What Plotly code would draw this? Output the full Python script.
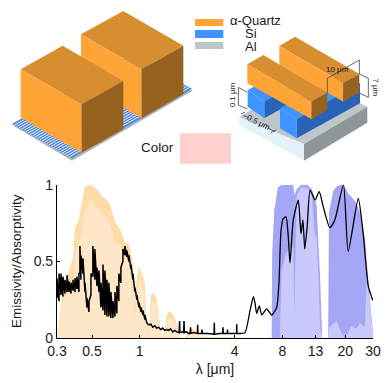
import plotly.graph_objects as go

# ---------- data ----------
SOLAR_LAM = [.300,.309,.318,.327,.337,.347,.357,.368,.379,.390,.401,.413,.425,.438,.451,.464,.478,.492,.506,.521,.537,.553,.569,.586,.603,.621,.639,.658,.678,.698,.718,.739,.761,.784,.807,.831,.855,.881,.907,.934,.961,.990,1.02,1.05,1.08,1.11,1.14,1.18,1.21,1.25,1.28,1.32,1.36,1.40,1.44,1.48,1.53,1.57,1.62,1.67,1.72,1.77,1.82,1.87,1.93,1.98,2.04,2.10,2.17,2.23,2.30,2.36,2.43,2.6,3.0,4.0]
SOLAR_UPPER = [0,.10,.20,.30,.34,.40,.44,.48,.52,.72,.74,.78,.86,.92,.99,.99,1.0,1.0,.99,.98,.97,.95,.93,.92,.91,.90,.88,.86,.80,.76,.74,.72,.70,.66,.62,.62,.61,.56,.47,.22,.40,.46,.44,.40,.36,.12,.05,.28,.29,.28,.26,.15,.03,0,.05,.15,.17,.17,.16,.13,.09,.04,.005,0,0,.02,.04,.06,.06,.05,.04,.02,.01,.005,.005,.005]
SOLAR_LOWER = [0,.07,.16,.24,.27,.28,.30,.33,.36,.55,.58,.62,.68,.76,.82,.85,.88,.90,.88,.87,.85,.84,.82,.80,.80,.78,.76,.72,.68,.60,.62,.62,.60,.56,.54,.52,.48,.38,.28,.10,.30,.38,.36,.33,.28,.07,0,.20,.24,.24,.22,.10,0,0,.02,.10,.13,.13,.12,.10,.06,.02,0,0,0,0,.02,.04,.04,.03,.02,.01,0,0,0,0]

BLUE_LAM = [6.7,6.85,6.9,7.0,7.12,7.3,7.48,7.7,7.93,8.5,9.39,9.53,9.87,10.5,11.5,12.3,12.8,13.2,13.6,13.9,14.3,15.6,15.8,16.3,16.8,17.7,19,20.0,21,22.0,23.5,24.8,25.8,26.7,27.4,28.3,29.1,29.6,30.0]
BLUE_DARK = [0,0,.55,.72,.84,.90,.98,.99,1,1,1,.93,.97,1,1,.97,.92,.86,.60,.38,0,0,.82,.90,.96,.99,1,.98,.94,.92,.88,.82,.72,.65,.50,.30,.17,.11,0]
BLUE_LIGHT = [0,0,0,0,0,0,0,0,.44,.56,.60,.16,.93,.98,.98,.94,.68,.66,.35,.06,0,0,.07,.08,.09,.11,.03,0,.04,.08,.06,.10,.08,.08,.40,.28,.14,.08,0]

BAND_LAM = [.300,.309,.318,.327,.337,.347,.357,.368,.379,.390,.401,.413,.419,.425,.438,.451,.464,.478,.492,.506,.521,.537,.553,.569,.586,.603,.621,.639,.658,.678,.698,.718,.739,.761,.784,.807,.831,.855,.881,.907,.934,.961,.990,1.02,1.05,1.08]
BAND_LOW = [.26,.24,.28,.27,.29,.30,.30,.29,.31,.30,.32,.30,.42,.38,.42,.30,.20,.17,.28,.40,.38,.34,.30,.20,.18,.15,.14,.14,.13,.13,.14,.16,.24,.36,.50,.54,.53,.50,.45,.38,.30,.25,.20,.17,.15,.12]
BAND_HIGH = [.39,.42,.42,.40,.38,.41,.37,.36,.38,.39,.40,.42,.60,.54,.52,.36,.26,.24,.42,.60,.58,.46,.44,.36,.48,.44,.38,.36,.30,.24,.30,.34,.42,.46,.58,.60,.57,.54,.48,.42,.33,.28,.23,.20,.18,.15]

TAIL_LAM = [1.11,1.14,1.18,1.21,1.25,1.28,1.32,1.36,1.40,1.44,1.48,1.53,1.57,1.62,1.67,1.72,1.78,1.79,1.80,1.87,1.90,1.91,1.92,1.98,2.04,2.09,2.10,2.11,2.2,2.32,2.33,2.34,2.47,2.48,2.49,2.7,2.96,2.97,2.98,3.2,3.36,3.37,3.38,3.59,3.6,3.61,3.9,4.11,4.12,4.13,4.4]
TAIL_VAL = [.10,.085,.09,.07,.08,.065,.07,.055,.065,.05,.055,.05,.06,.04,.05,.04,.035,.11,.035,.04,.035,.11,.035,.04,.03,.03,.07,.03,.035,.03,.087,.03,.03,.055,.03,.03,.025,.10,.025,.03,.03,.07,.03,.03,.055,.03,.03,.03,.09,.03,.03]

SMOOTH_LAM = [4.4,4.65,5.0,5.25,5.37,5.51,5.72,5.93,6.37,6.85,7.37,7.62,7.85,8.12,8.44,8.73,8.95,9.39,10.1,10.5,10.8,11.1,11.5,12.0,12.9,13.7,14.5,16.0,17.2,19.5,20.9,24.2,26.0,28.0,29.9]
SMOOTH_VAL = [.03,.035,.18,.27,.23,.16,.21,.15,.19,.15,.20,.36,.70,.78,.79,.66,.49,.77,.90,.68,.77,.58,.73,.965,.90,.955,.86,.72,.77,1.0,.565,.91,.68,.34,.245]

X_TICKS = [.3,.5,1,4,8,13,20,30]
X_LABELS = ["0.3","0.5","1","4","8","13","20","30"]
Y_TICKS = [0,.5,1]
Y_LABELS = ["0","0.5","1"]
LEGEND_LABELS = ["α-Quartz","Si","Al"]

W, H = 392, 383
FONT = "Liberation Sans"
TXT = "#1a1a1a"
OR_TOP, OR_FRONT, OR_SIDE = "#D68E30", "#FFA538", "#95621F"
BL_LIGHT, BL_DARK = "#3F94FF", "#2A62B8"

fig = go.Figure()
fig.add_trace(go.Scatter(x=SOLAR_LAM, y=SOLAR_UPPER, mode="lines", line=dict(width=0), fill="tozeroy", fillcolor="#FDDCA8"))
fig.add_trace(go.Scatter(x=SOLAR_LAM, y=SOLAR_LOWER, mode="lines", line=dict(width=0), fill="tozeroy", fillcolor="#FEE7C8"))
fig.add_trace(go.Scatter(x=BLUE_LAM, y=BLUE_DARK, mode="lines", line=dict(width=0), fill="tozeroy", fillcolor="#A6A6F6"))
fig.add_trace(go.Scatter(x=BLUE_LAM, y=BLUE_LIGHT, mode="lines", line=dict(width=0), fill="tozeroy", fillcolor="#C9C9FE"))

band_x, band_y = [], []
for l, lo, hi in zip(BAND_LAM, BAND_LOW, BAND_HIGH):
    band_x += [l, l]
    band_y += [lo, hi]
fig.add_trace(go.Scatter(x=band_x + TAIL_LAM, y=band_y + TAIL_VAL, mode="lines", line=dict(color="black", width=1.5)))
fig.add_trace(go.Scatter(x=SMOOTH_LAM, y=SMOOTH_VAL, mode="lines", line=dict(color="black", width=1.3, shape="spline", smoothing=0.6)))

# ---------- illustration helpers (zoom-pixel geometry, scale 1/3) ----------
shapes, annos = [], []
def P(x, y):
    return x / W, 1 - y / H

def poly(pts, color, ox=0):
    d = ""
    for i, (x, y) in enumerate(pts):
        px, py = P(ox + x / 3, y / 3)
        d += ("M" if i == 0 else "L") + f"{px:.5f},{py:.5f}"
    shapes.append(dict(type="path", xref="paper", yref="paper", path=d + "Z", fillcolor=color, line=dict(width=0), layer="below"))

def seg(p, q, color="#444444", w=0.8, ox=0):
    a, b = P(ox + p[0] / 3, p[1] / 3), P(ox + q[0] / 3, q[1] / 3)
    shapes.append(dict(type="line", xref="paper", yref="paper", x0=a[0], y0=a[1], x1=b[0], y1=b[1], line=dict(color=color, width=w), layer="below"))

def text(x, y, s, size, angle=0):
    annos.append(dict(xref="paper", yref="paper", x=x / W, y=1 - y / H, text=s, showarrow=False,
                      font=dict(family=FONT, size=size, color=TXT), textangle=angle, xanchor="center", yanchor="middle",
                      borderpad=0, borderwidth=0))

# left model: striped plate
poly([(40, 377), (216, 482), (578, 272), (400, 170)], "#A9B4BC")
poly([(36, 372), (216, 474), (576, 266), (396, 164)], "#4F84DC")
for i in range(1, 26):
    t = i / 26
    x0, y0 = 36 + 180 * t, 372 + 102 * t
    seg((x0, y0), (x0 + 360, y0 - 208), "#F2F5FA", 1.0)
# left model: blocks
poly([(243, 103), (370, 33), (550, 137), (425, 208)], OR_TOP)
poly([(243, 103), (425, 208), (425, 355), (243, 250)], OR_FRONT)
poly([(425, 208), (550, 137), (550, 283), (425, 355)], OR_SIDE)
poly([(62, 208), (188, 137), (370, 243), (245, 313)], OR_TOP)
poly([(62, 208), (245, 313), (245, 458), (62, 353)], OR_FRONT)
poly([(245, 313), (370, 243), (370, 388), (245, 458)], OR_SIDE)

# legend + colour swatch
for (y0, y1), c in zip([(57, 78), (90, 114), (126, 147)], [OR_FRONT, BL_LIGHT, "#BCC5C8"]):
    poly([(45, y0), (130, y0), (130, y1), (45, y1)], c, ox=180)
text(180 + 225 / 3, 62 / 3, LEGEND_LABELS[0], 13)
text(180 + 212 / 3, 100 / 3, LEGEND_LABELS[1], 13)
text(180 + 212 / 3, 140 / 3, LEGEND_LABELS[2], 13)
text(157, 147.5, "Color", 13.5)
poly([(0, 400), (153, 400), (153, 491), (0, 491)], "#FFD1CD", ox=180)

# right model
o = 180
poly([(178, 352), (372, 432), (562, 320), (370, 225)], "#BDC6C9", o)
poly([(178, 352), (372, 432), (372, 482), (178, 375)], "#E3F2FA", o)
poly([(372, 432), (562, 320), (562, 368), (372, 482)], "#8E9699", o)
poly([(203, 270), (250, 245), (320, 285), (253, 305)], BL_LIGHT, o)
poly([(253, 305), (330, 262), (330, 312), (253, 355)], BL_DARK, o)
poly([(203, 270), (253, 305), (253, 355), (203, 320)], BL_LIGHT, o)
poly([(350, 358), (300, 325), (490, 218), (540, 250)], BL_LIGHT, o)
poly([(350, 358), (540, 250), (540, 310), (350, 415)], BL_DARK, o)
poly([(300, 325), (350, 358), (350, 415), (300, 385)], BL_LIGHT, o)
poly([(298, 138), (345, 110), (538, 222), (490, 250)], OR_TOP, o)
poly([(298, 138), (490, 250), (490, 305), (298, 195)], OR_FRONT, o)
poly([(490, 250), (538, 222), (538, 278), (490, 305)], OR_SIDE, o)
poly([(202, 193), (250, 165), (442, 278), (395, 305)], OR_TOP, o)
poly([(202, 193), (395, 305), (395, 358), (202, 250)], OR_FRONT, o)
poly([(395, 305), (442, 278), (442, 330), (395, 358)], OR_SIDE, o)
for a, b in [((442, 235), (538, 180)), ((442, 235), (442, 280)), ((538, 180), (538, 222)),
             ((538, 222), (565, 235)), ((565, 235), (565, 292)), ((565, 292), (540, 280)),
             ((175, 262), (202, 277)), ((175, 262), (175, 315)), ((175, 315), (202, 327)),
             ((188, 345), (205, 353)), ((265, 385), (285, 395)), ((182, 342), (195, 336)), ((272, 398), (288, 390))]:
    seg(a, b, ox=o)
text(o + 473 / 3, 207 / 3, "10 μm", 8)
text(o + 588 / 3, 262 / 3, "7 μm", 8, 90)
text(o + 157 / 3, 285 / 3, "0.1 μm", 8, -90)
text(o + 235 / 3, 368 / 3, "0.5 μm", 8, 27)

fig.update_layout(
    width=W, height=H, showlegend=False, autosize=False,
    margin=dict(l=0, r=0, t=0, b=0, pad=0, autoexpand=False), paper_bgcolor="white", plot_bgcolor="white",
    font=dict(family=FONT, size=14, color=TXT), shapes=shapes, annotations=annos,
    xaxis=dict(type="log", domain=[57 / W, 373 / W], range=[-0.5229, 1.4771], tickvals=X_TICKS, ticktext=X_LABELS,
               ticks="inside", ticklen=3, tickcolor="black", showline=True, linecolor="black", linewidth=1.2,
               showgrid=False, zeroline=False, tickangle=0, automargin=False,
               title=dict(text="λ [μm]", font=dict(size=14), standoff=6)),
    yaxis=dict(domain=[1 - 338 / H, 1 - 184.7 / H], range=[0, 1], tickvals=Y_TICKS, ticktext=Y_LABELS,
               ticks="inside", ticklen=3, tickcolor="black", showline=True, linecolor="black", linewidth=1.2,
               showgrid=False, zeroline=False, automargin=False,
               title=dict(text="Emissivity/Absorptivity", font=dict(size=13.5), standoff=8)),
)
fig.write_html("out.html", config=dict(displayModeBar=False), post_script="document.body.style.margin='0';")
